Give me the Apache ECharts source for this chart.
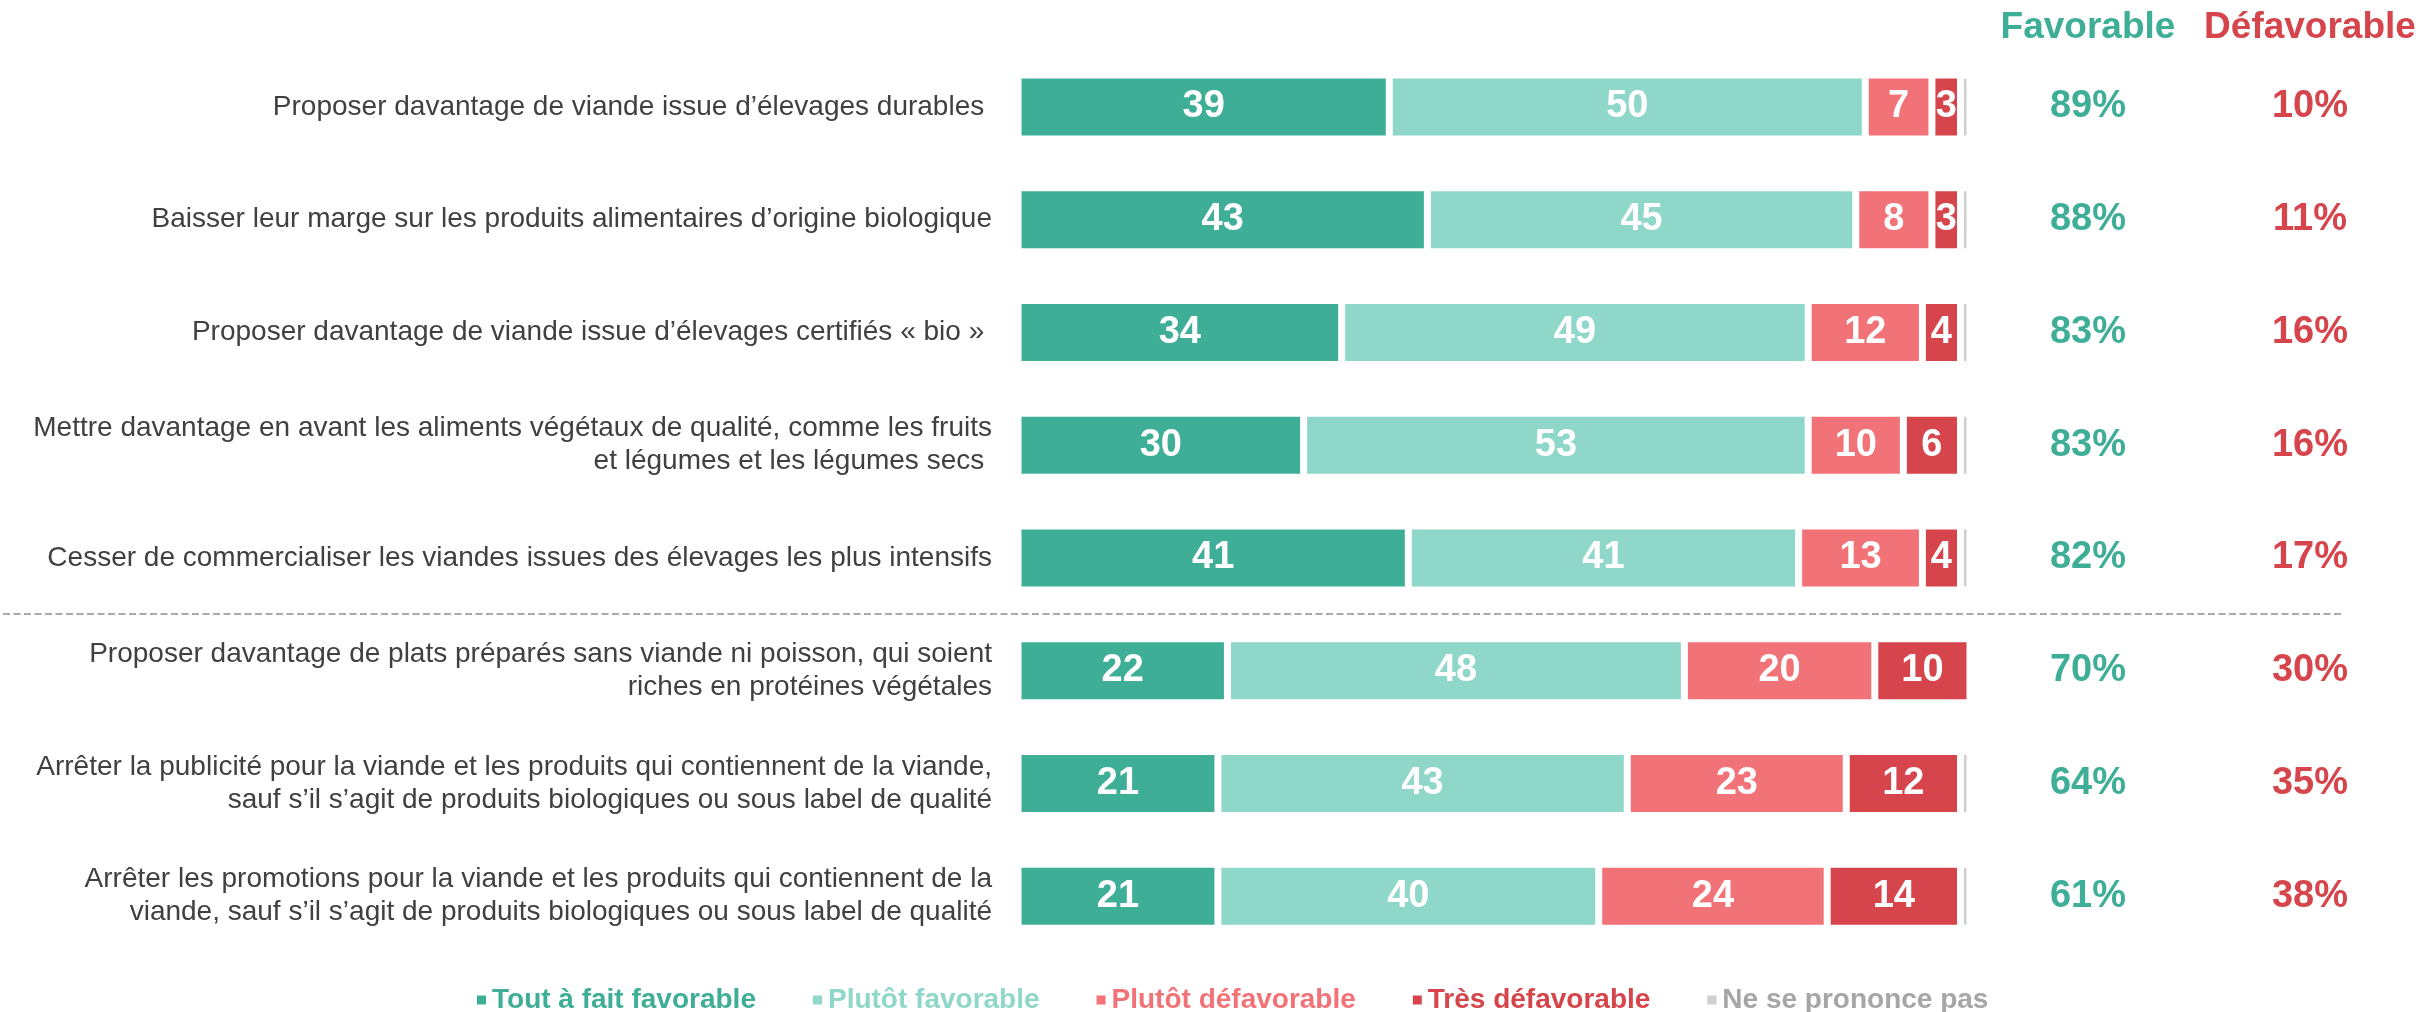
<!DOCTYPE html>
<html><head><meta charset="utf-8">
<script src="https://cdn.jsdelivr.net/npm/echarts@6/dist/echarts.min.js"></script>
<style>html,body{margin:0;padding:0;background:#fff}#c{width:2427px;height:1012px}</style>
</head><body><div id="c"></div>
<script>
const categories = [
  "Proposer davantage de viande issue d’élevages durables ",
  "Baisser leur marge sur les produits alimentaires d’origine biologique",
  "Proposer davantage de viande issue d’élevages certifiés « bio » ",
  "Mettre davantage en avant les aliments végétaux de qualité, comme les fruits\net légumes et les légumes secs ",
  "Cesser de commercialiser les viandes issues des élevages les plus intensifs",
  "Proposer davantage de plats préparés sans viande ni poisson, qui soient\nriches en protéines végétales",
  "Arrêter la publicité pour la viande et les produits qui contiennent de la viande,\nsauf s’il s’agit de produits biologiques ou sous label de qualité",
  "Arrêter les promotions pour la viande et les produits qui contiennent de la\nviande, sauf s’il s’agit de produits biologiques ou sous label de qualité"
];
const toutAFait = [39, 43, 34, 30, 41, 22, 21, 21];
const plutotFav = [50, 45, 49, 53, 41, 48, 43, 40];
const plutotDef = [7, 8, 12, 10, 13, 20, 23, 24];
const tresDef = [3, 3, 4, 6, 4, 10, 12, 14];
const nsp = [1, 1, 1, 1, 1, 0, 1, 1];
const favorable = [89, 88, 83, 83, 82, 70, 64, 61];
const defavorable = [10, 11, 16, 16, 17, 30, 35, 38];
const seriesNames = ["Tout à fait favorable", "Plutôt favorable", "Plutôt défavorable", "Très défavorable", "Ne se prononce pas"];
const colors = ["#3eae96", "#8fd7c8", "#f27377", "#d6444c", "#d0cece"];
const legendTextColors = ["#3eae96", "#8fd7c8", "#f27377", "#d6444c", "#a6a6a6"];
const headers = ["Favorable", "Défavorable"];

const FONT = "'Liberation Sans', Arial, sans-serif";
const chart = echarts.init(document.getElementById('c'));
const values = [toutAFait, plutotFav, plutotDef, tresDef, nsp];

const barSeries = values.map((v, i) => ({
  name: seriesNames[i],
  type: 'bar',
  stack: 'total',
  xAxisIndex: 0, yAxisIndex: 0,
  barWidth: 64,
  data: v,
  itemStyle: { color: colors[i], borderColor: '#fff', borderWidth: 3.5 },
  label: {
    show: i < 4,
    position: 'inside',
    color: '#fff',
    fontFamily: FONT,
    fontWeight: 'bold',
    fontSize: 38,
    formatter: p => p.value > 0 ? p.value : ''
  }
}));

const pctSeries = [favorable, defavorable].map((arr, k) => ({
  type: 'scatter',
  xAxisIndex: 1, yAxisIndex: 1,
  symbolSize: 0,
  silent: true,
  itemStyle: { opacity: 1 },
  data: arr.map((v, i) => [k + 0.5, i, v]),
  label: {
    show: true, position: 'inside', opacity: 1,
    formatter: p => p.value[2] + '%',
    color: k === 0 ? colors[0] : colors[3],
    fontFamily: FONT, fontWeight: 'bold', fontSize: 38
  }
}));

chart.setOption({
  animation: false,
  backgroundColor: '#fff',
  grid: [
    { left: 1018, right: 457, top: 50.6, bottom: 59.4 },
    { left: 1977, right: 6, top: 50.6, bottom: 59.4 }
  ],
  xAxis: [
    { type: 'value', gridIndex: 0, min: 0, max: 100, show: false },
    { type: 'value', gridIndex: 1, min: 0, max: 2, show: false }
  ],
  yAxis: [
    {
      type: 'category', gridIndex: 0, inverse: true, data: categories,
      axisLine: { show: false }, axisTick: { show: false },
      axisLabel: { margin: 26, color: '#404040', fontFamily: FONT, fontSize: 28, lineHeight: 33, align: 'right' }
    },
    {
      type: 'category', gridIndex: 1, inverse: true, data: categories, show: false
    }
  ],
  legend: {
    left: 470, top: 981,
    itemWidth: 11, itemHeight: 11, icon: 'rect', itemGap: 55,
    textStyle: { fontFamily: FONT, fontWeight: 'bold', fontSize: 28 },
    data: seriesNames.map((n, i) => ({ name: n, textStyle: { color: legendTextColors[i] } }))
  },
  series: barSeries.concat(pctSeries)
});

const xFav = chart.convertToPixel({ xAxisIndex: 1 }, 0.5);
const xDef = chart.convertToPixel({ xAxisIndex: 1 }, 1.5);
const y4 = chart.convertToPixel({ yAxisIndex: 0 }, 4);
const y5 = chart.convertToPixel({ yAxisIndex: 0 }, 5);
const ySep = Math.round((y4 + y5) / 2);
chart.setOption({
  graphic: [
    { type: 'text', x: xFav, y: 28, style: { text: headers[0], fill: colors[0], font: "bold 37px " + FONT, textAlign: 'center', textVerticalAlign: 'middle' } },
    { type: 'text', x: xDef, y: 28, style: { text: headers[1], fill: colors[3], font: "bold 37px " + FONT, textAlign: 'center', textVerticalAlign: 'middle' } },
    { type: 'line', shape: { x1: 3, y1: ySep, x2: 2343, y2: ySep }, style: { stroke: '#aaaaaa', lineWidth: 2, lineDash: [7, 3.5] } }
  ]
});
</script></body></html>
